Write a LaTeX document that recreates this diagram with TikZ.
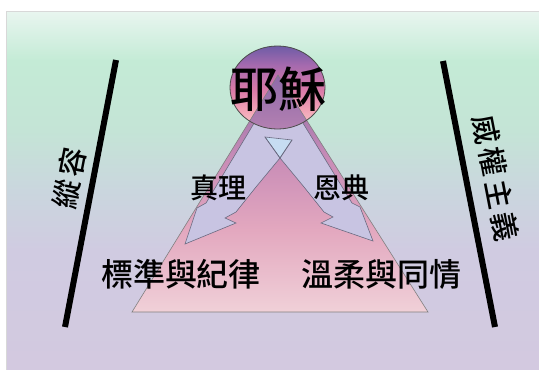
\documentclass[tikz,border=0pt]{standalone}
\usepackage{fontspec}
\usetikzlibrary{shapes.geometric}
\newfontfamily\cjk{Noto Sans CJK TC}[UprightFont=* Medium]
\definecolor{bgA}{HTML}{D3C9E0}
\definecolor{bgB}{HTML}{D0CBE1}
\definecolor{bgC}{HTML}{CAD6DE}
\definecolor{bgD}{HTML}{C4E4D6}
\definecolor{bgE}{HTML}{C4EBD6}
\definecolor{bgF}{HTML}{E8F5EF}
\definecolor{trA}{HTML}{F0D0D8}
\definecolor{trB}{HTML}{E3A8BF}
\definecolor{trC}{HTML}{C98DB7}
\definecolor{trD}{HTML}{8E6AA8}
\definecolor{ciA}{HTML}{F9CCCC}
\definecolor{ciB}{HTML}{F2A3B6}
\definecolor{ciC}{HTML}{DA7AA8}
\definecolor{ciD}{HTML}{A56AAE}
\definecolor{ciE}{HTML}{6E5CA6}
\definecolor{arrowfill}{HTML}{C8C4E2}
\definecolor{quadfill}{HTML}{C6DCF2}
\definecolor{arrowline}{HTML}{6A6A80}
\definecolor{frameline}{HTML}{D8D8D8}
\pgfdeclareverticalshading{bgsh}{100bp}{color(0bp)=(bgA); color(25bp)=(bgA); color(41.7bp)=(bgB); color(50bp)=(bgC); color(58.4bp)=(bgD); color(68.2bp)=(bgE); color(75bp)=(bgF); color(100bp)=(bgF)}
\pgfdeclareverticalshading{trish}{100bp}{color(0bp)=(trA); color(25bp)=(trA); color(42.3bp)=(trB); color(57bp)=(trC); color(75bp)=(trD); color(100bp)=(trD)}
\pgfdeclareverticalshading{circsh}{100bp}{color(0bp)=(ciA); color(25bp)=(ciA); color(36.5bp)=(ciB); color(48.5bp)=(ciC); color(63.5bp)=(ciD); color(75bp)=(ciE); color(100bp)=(ciE)}
\tikzset{
  lab/.style={inner sep=0pt, text=black, font=\cjk},
  arrowbody/.style={fill=arrowfill},
  arrowedge/.style={draw=arrowline, line width=0.6pt, line join=miter},
  bar/.style={line width=6pt, black},
}
\begin{document}
\begin{tikzpicture}[x=1pt,y=-1pt]
\useasboundingbox (0,0) rectangle (539,370);
\fill[white] (0,0) rectangle (539,370);
% background
\shade[shading=bgsh] (7,12) rectangle (539,370);
\draw[frameline, line width=1.5pt] (6.5,371) -- (6.5,11.5) -- (540,11.5);
% side bars
\coordinate (lt) at (116,60);
\coordinate (lb) at (65,327);
\coordinate (rt) at (443,61);
\coordinate (rb) at (495,327);
\draw[bar] (lt) -- (lb);
\draw[bar] (rt) -- (rb);
% triangle
\coordinate (ta) at (278,75);
\coordinate (tl) at (132,312);
\coordinate (tr) at (428,312);
\shade[shading=trish] (ta) -- (tl) -- (tr) -- cycle;
\draw[gray, line width=0.6pt] (ta) -- (tl) -- (tr) -- cycle;
% arrows (fills)
\fill[arrowbody] (259,115) -- (206,203) -- (197,208) -- (185,244) -- (236,223) -- (225,218) -- (236,212) -- (256,187) -- (280,158) -- (292,140) -- (300,115) -- cycle;
\fill[arrowbody] (258,115) -- (265,137) -- (280,158) -- (304,187) -- (324,212) -- (333,217) -- (321,223) -- (373,241) -- (360,207) -- (352,203) -- (298,115) -- cycle;
\filldraw[fill=quadfill, draw=arrowline, line width=0.6pt] (265,137) -- (292,140) -- (280,158) -- cycle;
\draw[arrowedge] (259,115) -- (206,203) -- (197,208) -- (185,244) -- (236,223) -- (225,218) -- (236,212) -- (256,187) -- (280,158) -- (292,140);
\draw[arrowedge] (298,115) -- (352,203) -- (360,207) -- (373,241) -- (321,223) -- (333,217) -- (324,212) -- (304,187) -- (280,158) -- (265,137);
% circle
\shade[shading=circsh] (277.5,87.5) ellipse [x radius=47.5, y radius=41.5];
\begin{scope}
  \clip (277.5,87.5) ellipse [x radius=47.5, y radius=41.5];
  \shade[shading=trish] (ta) -- (tl) -- (tr) -- cycle;
  \draw[gray, line width=0.6pt] (ta) -- (tl) -- (tr) -- cycle;
\end{scope}
\node[draw=black!70, line width=0.8pt, ellipse, minimum width=95pt, minimum height=83pt, inner sep=0pt] (jesus) at (277.5,87.5) {};
% texts
\node[lab] (jesust) at (278,89) {\fontsize{48}{48}\selectfont 耶穌};
\node[lab] (truth) at (218,188) {\fontsize{28}{28}\selectfont 真理};
\node[lab] (grace) at (341,188) {\fontsize{28}{28}\selectfont 恩典};
\node[lab] (std) at (181,274) {\fontsize{32}{32}\selectfont 標準與紀律};
\node[lab] (gentle) at (381,274) {\fontsize{32}{32}\selectfont 溫柔與同情};
\node[lab, rotate=79] (indul) at (69,178) {\fontsize{29}{29}\selectfont 縱\hspace{3pt}容};
\node[lab, rotate=-79] (auth) at (496,178) {\fontsize{29}{29}\selectfont 威\hspace{4pt}權\hspace{4pt}主\hspace{4pt}義};
\end{tikzpicture}
\end{document}
